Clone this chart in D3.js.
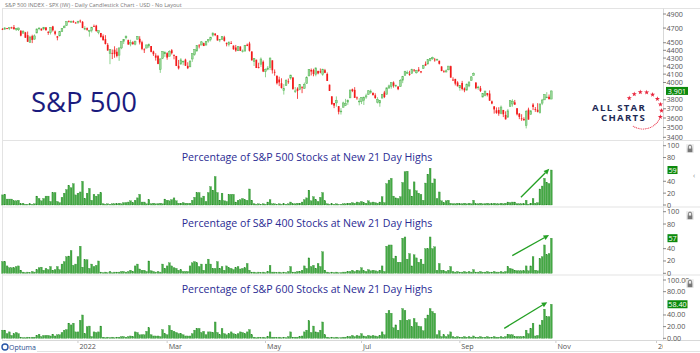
<!DOCTYPE html>
<html><head><meta charset="utf-8">
<script src="https://cdn.jsdelivr.net/npm/d3@7"></script>
<style>body{margin:0;background:#fff} svg{display:block} text{font-family:"Open Sans",sans-serif}</style>
</head><body><svg id="c" width="700" height="353"></svg>
<script>
// ---------- DATA ----------
// S&P 500 daily candles, 15 Nov 2021 .. 28 Oct 2022 (index = trading day)
const open=[4689,4684,4701,4700,4708,4712,4679,4676,4665,4629,4640,4602,4504,4589,4548,4631,4690,4691,4688,4710,4643,4636,4723,4653,4587,4594,4650,4703,4733,4795,4788,4795,4776,
4778,4804,4788,4693,4698,4655,4669,4729,4733,4637,4632,4588,4548,4472,4357,4366,4408,4381,4337,4431,
4520,4566,4535,4482,4505,4481,4547,4553,4507,4412,4429,4456,4456,4385,4333,4325,4155,4298,4355,
4363,4323,4401,4342,4327,4203,4223,4252,4280,4202,4189,4288,4346,4391,4463,4469,4494,4469,4523,4541,4602,4624,4600,
4541,4547,4573,4495,4474,4494,4462,4437,4394,4449,4385,4390,4473,4490,4385,4255,4279,4187,4223,4253,
4130,4159,4181,4271,4128,4081,4035,3991,3904,3963,4013,4052,4060,3899,3927,3919,3943,3930,3985,4078,4151,
4150,4096,4138,4134,4097,4148,4102,3974,3839,3764,3765,3729,3666,3716,3734,3774,3821,3920,3913,3826,3785,
3782,3793,3831,3859,3880,3880,3851,3773,3764,3819,3883,3861,3935,3955,3999,3965,3953,3951,4027,4087,
4112,4105,4108,4154,4116,4156,4134,4170,4227,4225,4269,4291,4281,4274,4266,4195,4134,4126,4153,4198,4034,4042,4000,
3937,3994,3930,3910,3959,4023,4084,4000,3940,3932,3831,3849,3876,3871,3782,3727,3683,3686,3651,3687,3633,
3609,3724,3753,3771,3706,3647,3596,3590,3520,3691,3638,3746,3696,3689,3657,3762,3799,3826,3834,3808];
const high=[4698,4714,4701,4708,4718,4743,4702,4705,4665,4672,4647,4652,4595,4608,4612,4694,4706,4695,4713,4710,4660,4712,4731,4666,4591,4651,4698,4740,4791,4807,4805,4808,4786,
4797,4819,4798,4726,4708,4674,4714,4749,4745,4666,4632,4612,4602,4495,4417,4411,4453,4428,4432,4516,
4547,4595,4542,4540,4521,4524,4590,4588,4527,4426,4472,4490,4456,4395,4362,4340,4295,4386,4388,
4375,4401,4416,4342,4327,4276,4300,4268,4292,4247,4271,4358,4412,4465,4482,4522,4501,4520,4546,4576,4637,4627,4604,
4547,4584,4593,4504,4521,4521,4464,4471,4453,4453,4411,4471,4489,4513,4386,4299,4279,4241,4308,4270,
4169,4200,4308,4271,4157,4082,4069,4050,3981,4039,4047,4091,4060,3946,3943,3981,3956,3999,4075,4158,4169,
4166,4177,4143,4169,4165,4164,4120,3974,3839,3764,3838,3729,3707,3779,3810,3802,3914,3928,3945,3837,3818,
3829,3832,3870,3910,3918,3880,3874,3829,3796,3864,3902,3939,3975,3999,4013,3975,3953,4040,4079,4141,
4145,4141,4167,4162,4152,4187,4138,4211,4257,4280,4301,4318,4302,4293,4266,4196,4149,4157,4200,4204,4062,4044,4015,
3970,4019,3942,3987,4010,4077,4120,4000,3961,3959,3870,3900,3877,3907,3791,3727,3715,3717,3736,3687,3672,
3698,3791,3806,3798,3706,3654,3641,3608,3686,3712,3682,3762,3719,3762,3757,3810,3862,3887,3860,3905];
const low=[4672,4679,4684,4672,4692,4682,4659,4659,4586,4626,4565,4510,4504,4495,4541,4631,4670,4665,4671,4667,4606,4611,4652,4600,4532,4584,4645,4703,4733,4781,4779,4776,4765,
4758,4774,4699,4671,4663,4582,4639,4716,4650,4614,4568,4531,4477,4395,4223,4287,4304,4309,4264,4415,
4483,4544,4471,4452,4471,4465,4547,4477,4402,4365,4429,4430,4374,4327,4268,4222,4115,4287,4315,
4279,4323,4346,4284,4199,4157,4223,4209,4200,4162,4188,4252,4330,4384,4425,4469,4456,4465,4501,4518,4582,4589,4530,
4508,4536,4515,4452,4451,4485,4408,4381,4392,4392,4371,4388,4455,4384,4267,4200,4175,4170,4188,4125,
4062,4147,4151,4107,4081,3976,3957,3929,3859,3963,3984,4033,3914,3877,3810,3909,3875,3926,3985,4078,4084,
4074,4074,4098,4110,4080,4111,4017,3900,3744,3707,3723,3639,3637,3716,3730,3743,3821,3887,3820,3800,3738,
3752,3742,3810,3859,3867,3847,3812,3759,3722,3817,3819,3861,3925,3927,3939,3944,3910,3951,3992,4080,
4101,4080,4108,4128,4107,4128,4112,4164,4201,4220,4257,4277,4254,4270,4219,4136,4119,4122,4147,4057,4017,3965,3954,
3903,3907,3886,3907,3944,4023,4084,3921,3913,3888,3827,3839,3838,3789,3750,3647,3645,3624,3640,3610,3584,
3604,3724,3723,3745,3628,3588,3570,3570,3491,3584,3638,3686,3666,3660,3647,3740,3799,3824,3804,3808];
const close=[4683,4701,4689,4705,4698,4683,4691,4701,4595,4655,4567,4513,4577,4538,4592,4687,4701,4667,4712,4669,4634,4710,4669,4621,4568,4649,4697,4726,4791,4786,4793,4779,4766,
4797,4794,4701,4696,4677,4670,4713,4726,4659,4663,4577,4533,4483,4398,4410,4356,4350,4327,4432,4516,
4547,4589,4477,4501,4484,4522,4587,4504,4419,4402,4471,4475,4380,4349,4305,4226,4289,4385,4374,
4306,4387,4363,4329,4201,4171,4278,4260,4204,4173,4262,4358,4412,4463,4461,4512,4456,4520,4543,4576,4632,4602,4530,
4546,4583,4525,4481,4500,4488,4413,4397,4447,4393,4392,4462,4459,4394,4272,4296,4175,4184,4288,4132,
4155,4175,4300,4147,4123,3991,4001,3935,3930,4024,4008,4089,3924,3901,3901,3974,3941,3979,4058,4158,4132,
4101,4177,4109,4121,4161,4116,4018,3901,3750,3735,3790,3667,3675,3765,3760,3796,3912,3900,3822,3819,3785,
3825,3831,3845,3903,3899,3854,3819,3802,3790,3863,3831,3937,3960,3999,3962,3967,3921,4024,4072,4130,
4119,4091,4155,4152,4145,4140,4122,4210,4207,4280,4297,4305,4274,4284,4228,4138,4129,4141,4199,4058,4031,3986,3955,
3967,3924,3908,3980,4006,4067,4110,3933,3946,3901,3873,3900,3856,3790,3758,3693,3655,3647,3719,3640,3586,
3678,3791,3783,3745,3640,3612,3589,3577,3670,3583,3678,3720,3695,3666,3753,3797,3859,3831,3807,3901];

// % of stocks at new 21-day highs
const pct500=[17,18,10,10,10,7,7,8,2,3, 1,1,2,1,2,15,11,7,11,15, 15,6,21,21,6,4,13,20,26,33, 29,36,17,20,22,40,11,20,28,8,
18,15,18,21,2,1,2,1,2,2, 2,3,2,4,4,5,7,4,8,12, 18,5,5,2,9,2,3,2,2,3, 2,10,8,7,9,12,7,3,3,4,
3,3,3,8,13,21,21,12,15,6, 21,31,25,48,21,8,20,7,6,18, 18,18,5,8,9,11,9,8,27,8, 2,1,2,1,2,1,5,9,2,2,
1,2,1,2,1,2,5,2,2,3, 3,5,9,12,25,7,14,9,6,13, 21,7,2,1,2,1,2,1,1,2, 2,3,3,4,3,5,4,6,4,3,
7,4,5,4,3,5,14,4,36,42, 45,15,12,11,14,38,56,57,26,15, 39,24,20,18,8,37,52,62,37,44, 11,22,7,4,7,8,3,2,2,3,
2,2,3,2,3,2,8,2,2,3, 2,2,3,2,2,3,2,2,3,2, 3,5,4,5,5,2,2,2,2,8, 1,3,11,3,4,27,32,45,38,36, 59];
const pct400=[19,19,12,9,9,9,11,12,5,2, 1,2,1,3,2,6,9,10,5,8, 6,11,5,6,11,6,15,19,27,28, 37,13,15,27,44,10,22,22,8,15,
11,13,20,2,1,2,1,3,1,2, 2,2,3,3,2,3,5,3,12,15, 7,5,5,3,20,4,3,2,3,2, 15,8,12,17,12,9,8,5,6,3,
3,3,12,17,19,17,11,15,5,15, 23,15,8,8,19,8,11,5,12,9, 8,6,9,11,7,8,9,16,5,2, 2,1,2,1,2,1,3,13,2,2,
1,2,1,2,1,3,11,2,2,3, 3,5,12,8,25,11,13,8,16,11, 35,5,2,1,2,1,2,1,1,2, 2,3,3,5,3,5,4,9,4,3,
6,4,5,4,3,5,12,3,44,46, 46,24,28,18,18,57,59,23,32,12, 30,25,18,23,15,40,40,59,40,43, 5,16,5,4,3,5,11,3,2,3,
2,2,3,2,3,2,6,2,2,3, 2,2,3,2,2,3,2,2,3,2, 3,11,8,7,5,4,4,4,4,12, 4,12,27,5,4,24,27,46,30,32, 57];
const pct600=[14,14,8,11,5,8,10,8,2,1, 1,2,1,2,2,5,7,3,5,5, 5,4,7,4,6,6,10,14,15,26, 23,26,11,11,31,40,8,20,21,3,
11,10,11,21,2,1,2,1,2,1, 2,2,3,3,2,3,4,3,11,10, 6,6,6,12,18,6,4,4,4,3, 15,8,6,22,14,12,10,8,8,6,
4,4,4,8,14,17,17,10,12,6, 11,11,10,28,10,6,17,8,6,8, 11,8,6,8,11,10,8,11,15,6, 2,1,2,1,2,1,3,11,2,2,
1,2,1,2,1,3,11,2,2,2, 3,4,11,14,30,10,21,11,10,14, 28,6,2,1,2,1,2,1,1,2, 2,3,3,5,3,5,4,8,4,3,
5,4,5,4,3,5,11,6,43,48, 43,18,23,14,31,51,48,31,32,20, 34,27,21,20,13,34,40,51,46,43, 6,13,3,6,3,6,11,3,2,3,
2,2,3,2,3,2,4,2,2,3, 2,2,3,2,2,3,2,2,3,2, 3,7,6,6,3,3,3,3,3,14, 8,17,26,4,5,23,31,50,37,37, 58.4];

const priceTicks=[4900,4700,4500,4400,4300,4200,4100,4000,3800,3700,3600,3500,3400];
const pctTicks=[100,80,40,20,0];
const monthTickIdx=[33,72,115,157,200,242,286];
const monthTickLabels=["2022","Mar","May","Jul","Sep","Nov","2023"];
const panelTitles=["Percentage of S&P 500 Stocks at New 21 Day Highs","Percentage of S&P 400 Stocks at New 21 Day Highs","Percentage of S&P 600 Stocks at New 21 Day Highs"];
const lastLabels=["59","57","58.40"];
const arrowStart=[[226.7,13],[222.9,28.6],[219.4,17]];
const arrowEnd=[[239.1,61],[239,62],[238.2,62]];
const headerText="S&P 500 INDEX - SPX (IW) - Daily Candlestick Chart - USD - No Layout";

// ---------- DRAW ----------
const svg=d3.select("#c");
const plotR=663;
const x=d3.scaleLinear().domain([0,289]).range([2.5,663.4]);
const y=d3.scaleLog().domain([3400,4900]).range([137.3,14]);
const panels=[
  {vals:pct500,y:d3.scaleLinear().domain([0,100]).range([205,145.7]),dec:0,top:141,title:161},
  {vals:pct400,y:d3.scaleLinear().domain([0,100]).range([273.3,211.7]),dec:0,top:208,title:227},
  {vals:pct600,y:d3.scaleLinear().domain([0,100]).range([338.3,280]),dec:2,top:276,title:293}
];
const axisCol="#555", lineCol="#e3e3e3", fs=7.2;

svg.append("text").attr("x",5).attr("y",6.5).attr("font-size",5.6).attr("fill","#777").text(headerText);

// frame lines
svg.append("line").attr("x1",2).attr("x2",700).attr("y1",8.5).attr("y2",8.5).attr("stroke",lineCol);
svg.append("line").attr("x1",2.5).attr("x2",2.5).attr("y1",8.5).attr("y2",340).attr("stroke",lineCol);
svg.append("line").attr("x1",plotR+0.5).attr("x2",plotR+0.5).attr("y1",8.5).attr("y2",340).attr("stroke","#d8d8d8");
[140.5,207,275].forEach(v=>svg.append("line").attr("x1",2).attr("x2",700).attr("y1",v).attr("y2",v).attr("stroke",lineCol));
svg.append("line").attr("x1",2).attr("x2",700).attr("y1",340.5).attr("y2",340.5).attr("stroke","#d8d8d8");
svg.append("line").attr("x1",37).attr("x2",700).attr("y1",351.5).attr("y2",351.5).attr("stroke",lineCol);

// big label
svg.append("text").attr("x",31).attr("y",112).attr("font-size",27.5).attr("fill","#1b1b7e").text("S&P 500");

// candles
const idx=d3.range(close.length);
const cg=svg.append("g");
const upC="#72c872", dnC="#f21a1a";
cg.selectAll("line.w").data(idx).join("line")
  .attr("x1",i=>x(i)).attr("x2",i=>x(i)).attr("y1",i=>y(high[i])).attr("y2",i=>y(low[i]))
  .attr("stroke",i=>close[i]>=open[i]?upC:dnC).attr("stroke-width",0.8);
cg.selectAll("rect").data(idx).join("rect")
  .attr("x",i=>x(i)-0.85).attr("width",1.7)
  .attr("y",i=>y(Math.max(open[i],close[i])))
  .attr("height",i=>Math.max(0.8,y(Math.min(open[i],close[i]))-y(Math.max(open[i],close[i]))))
  .attr("fill",i=>close[i]>=open[i]?"#9bd89b":dnC)
  .attr("stroke",i=>close[i]>=open[i]?"#58b558":"none").attr("stroke-width",0.5);

// price axis
const pa=svg.append("g");
priceTicks.forEach(t=>{
  pa.append("line").attr("x1",plotR).attr("x2",plotR+3).attr("y1",y(t)).attr("y2",y(t)).attr("stroke","#888");
  pa.append("text").attr("x",plotR+3.5).attr("y",y(t)+2.5).attr("font-size",fs).attr("fill",axisCol).text(t);
});
const lastY=y(close[close.length-1]);
svg.append("rect").attr("x",666).attr("y",lastY-4).attr("width",22).attr("height",8).attr("fill","#0c8a0c");
svg.append("text").attr("x",677).attr("y",lastY+2.6).attr("text-anchor","middle").attr("font-size",fs).attr("fill","#fff").text(d3.format(",")(close[close.length-1]));

// all star charts logo
const lg=svg.append("g");
lg.append("text").attr("x",592).attr("y",111).attr("font-size",9.6).attr("font-weight",700).attr("letter-spacing",1.3).attr("fill","#1e2a55").text("ALL STAR");
lg.append("text").attr("x",601).attr("y",120.5).attr("font-size",9.6).attr("font-weight",700).attr("letter-spacing",1.3).attr("fill","#1e2a55").text("CHARTS");
const cx=643,cy=110.5,R=18.5;
const star=d3.symbol().type(d3.symbolStar).size(8);
d3.range(-138,21,19.8).forEach(a=>{const r=a*Math.PI/180;
  lg.append("path").attr("d",star()).attr("transform",`translate(${cx+R*Math.cos(r)},${cy+R*Math.sin(r)})`).attr("fill","#e8243c");});
d3.range(28,126,5.5).forEach(a=>{const r=a*Math.PI/180;
  lg.append("circle").attr("cx",cx+R*Math.cos(r)).attr("cy",cy+R*Math.sin(r)).attr("r",0.55).attr("fill","#e8243c");});

// percentage panels
panels.forEach((p,k)=>{
  const g=svg.append("g");
  g.selectAll("rect").data(p.vals).join("rect")
    .attr("x",(d,i)=>x(i)-0.9).attr("width",1.8)
    .attr("y",d=>p.y(d)).attr("height",d=>p.y(0)-p.y(d))
    .attr("fill","#44a944").attr("stroke","#2a8a2a").attr("stroke-width",0.3);
  g.append("text").attr("x",307).attr("y",p.title).attr("text-anchor","middle").attr("font-size",10.6).attr("fill","#2b2c94").text(panelTitles[k]);
  pctTicks.forEach(t=>{
    g.append("line").attr("x1",plotR).attr("x2",plotR+3).attr("y1",p.y(t)).attr("y2",p.y(t)).attr("stroke","#888");
    g.append("text").attr("x",plotR+4).attr("y",p.y(t)+2.5).attr("font-size",fs).attr("fill",axisCol).text(d3.format("."+p.dec+"f")(t));
  });
  const lv=p.vals[p.vals.length-1];
  const w=p.dec?20:10;
  g.append("rect").attr("x",667.5).attr("y",p.y(lv)-4).attr("width",w).attr("height",8).attr("fill","#0c8a0c");
  g.append("text").attr("x",667.5+w/2).attr("y",p.y(lv)+2.6).attr("text-anchor","middle").attr("font-size",fs).attr("fill","#fff").text(lastLabels[k]);
  // arrow
  const s=arrowStart[k], e=arrowEnd[k];
  const x1=x(s[0]),y1=p.y(s[1]),x2=x(e[0]),y2=p.y(e[1]);
  const ang=Math.atan2(y2-y1,x2-x1), hl=5.5, hw=2.6;
  g.append("line").attr("x1",x1).attr("y1",y1).attr("x2",x2-hl*Math.cos(ang)).attr("y2",y2-hl*Math.sin(ang)).attr("stroke","#24a024").attr("stroke-width",1.3);
  g.append("path").attr("d",`M${x2},${y2}L${x2-hl*Math.cos(ang)+hw*Math.sin(ang)},${y2-hl*Math.sin(ang)-hw*Math.cos(ang)}L${x2-hl*Math.cos(ang)-hw*Math.sin(ang)},${y2-hl*Math.sin(ang)+hw*Math.cos(ang)}Z`).attr("fill","#24a024");
  // lock icon
  const ly=p.top+2;
  g.append("rect").attr("x",686).attr("y",ly+1).attr("width",8).attr("height",9).attr("rx",1).attr("fill","#ececec");
  g.append("path").attr("d",`M688.3,${ly+6}v-2.2a1.7,1.7 0 0 1 3.4,0v2.2`).attr("fill","none").attr("stroke","#777").attr("stroke-width",1);
  g.append("rect").attr("x",687.6).attr("y",ly+5.6).attr("width",4.8).attr("height",3.6).attr("fill","#777");
});
svg.append("text").attr("x",693).attr("y",178).attr("font-size",7).attr("fill","#888").text("‹");

// x axis labels
const xa=svg.append("g");
svg.append("clipPath").attr("id","xc").append("rect").attr("x",0).attr("y",340).attr("width",plotR).attr("height",13);
xa.attr("clip-path","url(#xc)");
monthTickIdx.forEach((t,k)=>{
  xa.append("line").attr("x1",x(t)).attr("x2",x(t)).attr("y1",341).attr("y2",343).attr("stroke","#ccc");
  xa.append("text").attr("x",x(t)+1.5).attr("y",348.5).attr("font-size",fs).attr("fill",axisCol).text(monthTickLabels[k]);
});

// Optuma logo
const og=svg.append("g");
og.append("circle").attr("cx",5).attr("cy",347).attr("r",3).attr("fill","none").attr("stroke","#2a57a8").attr("stroke-width",1.4);
og.append("text").attr("x",9).attr("y",349.5).attr("font-size",7).attr("fill","#2a4d8f").text("Optuma");
</script></body></html>
